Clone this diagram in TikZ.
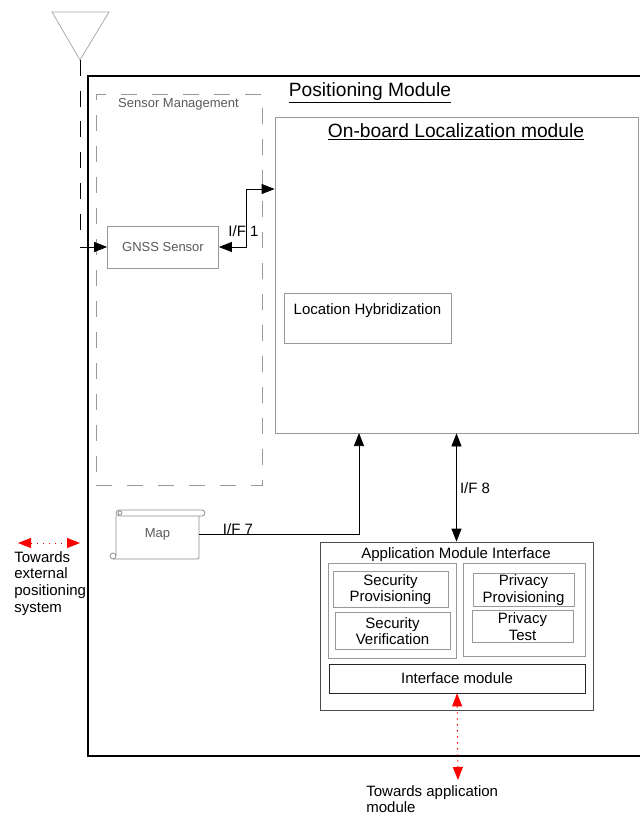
\documentclass[tikz,border=0pt]{standalone}
\usepackage{fontspec}
\setmainfont{Liberation Sans}
\usetikzlibrary{arrows.meta}
\tikzstyle{arrow} = [black,-{Triangle[length=13pt,width=10pt]}]
\tikzstyle{twoway} = [black,{Triangle[length=13pt,width=10pt]}-{Triangle[length=13pt,width=10pt]}]
\tikzstyle{redarrow} = [red,line width=0.9pt,dash pattern=on 1.5pt off 4.5pt,{Triangle[length=13pt,width=10pt]}-{Triangle[length=13pt,width=10pt]}]
\tikzstyle{box} = [draw=black!40,rectangle,inner sep=0pt,align=center,font=\fontsize{15}{16.7}\selectfont]
\tikzstyle{label} = [inner sep=0pt,align=left,font=\fontsize{15}{16.7}\selectfont]
\tikzstyle{graytext} = [inner sep=0pt,text=black!65,font=\fontsize{13}{15}\selectfont]

\begin{document}
\begin{tikzpicture}[x=1pt,y=-1pt,line width=0.75pt]
    \useasboundingbox (0,0) rectangle (640,817);

    \coordinate (modnw) at (88,76);
    \coordinate (modne) at (640,76);
    \coordinate (modsw) at (88,756);
    \coordinate (modse) at (640,756);
    \draw [line width=1.5pt] (modne) -- (modnw) -- (modsw) -- (modse); % runs off the right edge
    \node (modtitle) [label,font=\fontsize{19.2}{21}\selectfont] at (370,93) {\underline{Positioning Module}};

    \node (mgmt) [draw=black!40,dash pattern=on 16pt off 15pt,minimum width=166pt,minimum height=391pt] at (179,289.5) {};
    \node (mgmttitle) [graytext] at (178.5,104) {Sensor Management};
    \node (gnss) [box,draw=black!40,text=black!65,font=\fontsize{13}{15}\selectfont,minimum width=111pt,minimum height=42pt] at (163,247) {GNSS Sensor};

    \node (onboard) [box,minimum width=363pt,minimum height=316pt] at (456.5,275) {};
    \node (onboardtitle) [label,font=\fontsize{19.2}{21}\selectfont] at (456,132) {\underline{On-board Localization module}};
    \node (hybrid) [box,minimum width=167pt,minimum height=50pt] at (367.5,318) {};
    \node (hybridtitle) [label] at (367.5,311) {Location Hybridization};

    % antenna, then the dashed feed down to the sensor
    \coordinate (ant) at (80,60);
    \coordinate (feedend) at (80,231);
    \coordinate (feed) at (80,247);
    \draw [black!35] (52,12) -- (109,12) -- (ant) -- cycle;
    \draw [dash pattern=on 16pt off 14.7pt] (ant) -- (feedend);
    \draw [arrow] (feed) -- (gnss);

    \coordinate (ifone) at (246,189);
    \draw [twoway] (gnss) -| (ifone) -- (ifone -| onboard.west);
    \node (ifonelabel) [label] at (243.5,231) {I/F 1};

    \node (map) [graytext,minimum width=83pt,minimum height=49pt] at (157.5,534) {Map};
    \draw [black!45,rounded corners=2pt] (116,516) -- (116,556) (113,559) -- (199,559) -- (199,516);
    \draw [black!45,rounded corners=3pt] (116,510) rectangle (205,516);
    \draw [black!45] (120,513) circle [radius=2pt];
    \draw [black!45] (113,556) circle [radius=3pt];
    \coordinate (ifseven) at (359,433);
    \draw [arrow] (map.east) -| (ifseven);
    \node (ifsevenlabel) [label] at (238,529) {I/F 7};

    \node (ami) [box,draw=black!70,minimum width=273pt,minimum height=168pt] at (456.5,626) {};
    \node (amititle) [label] at (456,555) {Application Module Interface};
    \draw [twoway] (onboard.south) -- (ami.north);
    \node (ifeightlabel) [label] at (475,488) {I/F 8};

    \node (secgroup) [box,minimum width=128pt,minimum height=95pt] at (392,610.5) {};
    \node (privgroup) [box,minimum width=122pt,minimum height=93pt] at (524,609.5) {};
    \node (secprov) [box,minimum width=115pt,minimum height=36pt] at (390.5,589.5) {Security\\Provisioning};
    \node (secver) [box,minimum width=115pt,minimum height=37pt] at (392.5,631) {Security\\Verification};
    \node (privprov) [box,minimum width=101pt,minimum height=33pt] at (523.5,590) {Privacy\\Provisioning};
    \node (privtest) [box,minimum width=101pt,minimum height=32pt] at (522.5,626.5) {Privacy\\Test};
    \node (iface) [box,draw=black!85,minimum width=256pt,minimum height=29pt] at (457,678.5) {Interface module};

    \coordinate (append) at (458,780);
    \draw [redarrow] (iface.south) -- (append);
    \node (applabel) [label,anchor=north west] at (366,785) {Towards application\\module};

    \coordinate (extleft) at (18,543);
    \coordinate (extright) at (80,543);
    \draw [redarrow] (extleft) -- (extright);
    \node (extlabel) [label,anchor=north west] at (14,551) {Towards\\external\\positioning\\system};
  \end{tikzpicture}
\end{document}
